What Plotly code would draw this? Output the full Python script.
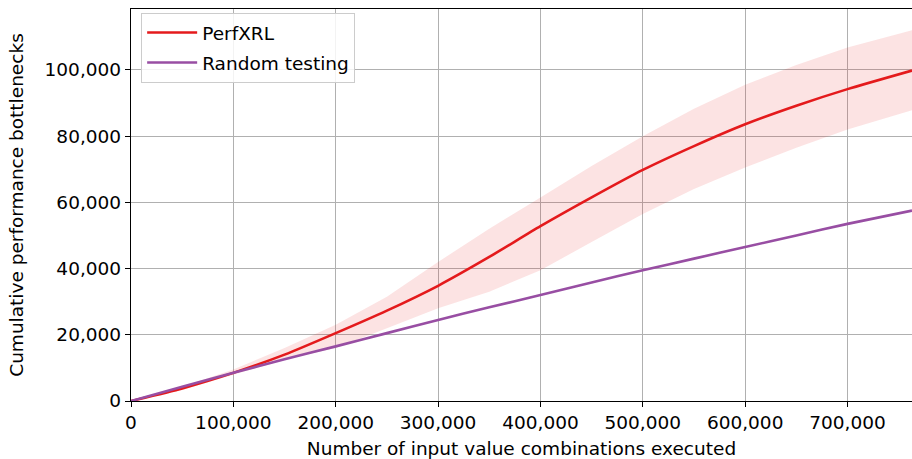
import plotly.graph_objects as go

executed = [0, 50000, 100000, 150000, 200000, 250000, 300000, 350000, 400000,
            450000, 500000, 550000, 600000, 650000, 700000, 763000]
perfxrl_mean = [0, 3800, 8500, 14000, 20500, 27300, 34800, 43500, 52800,
                61500, 69800, 77000, 83600, 89200, 94200, 99800]
perfxrl_upper = [0, 4300, 9500, 16000, 23000, 31500, 42000, 52000, 61500,
                 71000, 80000, 88300, 95500, 101500, 106800, 112000]
perfxrl_lower = [0, 3300, 7800, 12500, 16000, 22000, 28000, 33000, 39500,
                 48000, 56500, 64000, 70500, 76500, 82000, 87800]
random_testing = [0, 4300, 8500, 12600, 16500, 20500, 24500, 28300, 32000,
                  35800, 39500, 43000, 46500, 50000, 53500, 57500]

x_ticks = [0, 100000, 200000, 300000, 400000, 500000, 600000, 700000]
y_ticks = [0, 20000, 40000, 60000, 80000, 100000]

RED = "#e41a1c"
PURPLE = "#984ea3"
FONT = "DejaVu Sans"

fig = go.Figure()
fig.add_trace(go.Scatter(
    x=executed + executed[::-1],
    y=perfxrl_upper + perfxrl_lower[::-1],
    fill="toself", fillcolor="rgba(228,26,28,0.12)",
    line=dict(width=0), mode="lines", showlegend=False, hoverinfo="skip"))
fig.add_trace(go.Scatter(
    x=executed, y=perfxrl_mean, mode="lines", name="PerfXRL", legendgroup="a",
    line=dict(color=RED, width=2.6, shape="spline", smoothing=0.6)))
fig.add_trace(go.Scatter(
    x=executed, y=random_testing, mode="lines", name="Random testing",
    legendgroup="b",
    line=dict(color=PURPLE, width=2.6, shape="spline", smoothing=0.6)))

fig.update_layout(
    width=912, height=459,
    margin=dict(l=131, r=0, t=9, b=58, autoexpand=False),
    paper_bgcolor="white", plot_bgcolor="white",
    font=dict(family=FONT, size=18.5, color="black"),
    legend=dict(x=0.013, y=0.99, xanchor="left", yanchor="top",
                bgcolor="rgba(255,255,255,0.85)", bordercolor="#cccccc",
                borderwidth=1, font=dict(size=18.5), tracegroupgap=3,
                itemwidth=50),
    xaxis=dict(
        range=[0, 763000], tickvals=x_ticks, tickformat=",d",
        showgrid=True, gridcolor="#b0b0b0", gridwidth=1.4,
        showline=True, linecolor="black", linewidth=1.4, mirror=True,
        ticks="outside", ticklen=5, tickwidth=1.4, tickcolor="black",
        zeroline=False,
        title=dict(text="Number of input value combinations executed",
                   standoff=10, font=dict(size=18.5))),
    yaxis=dict(
        range=[0, 118400], tickvals=y_ticks, tickformat=",d",
        showgrid=True, gridcolor="#b0b0b0", gridwidth=1.4,
        showline=True, linecolor="black", linewidth=1.4,
        ticks="outside", ticklen=5, tickwidth=1.4, tickcolor="black",
        zeroline=False,
        title=dict(text="Cumulative performance bottlenecks",
                   standoff=16, font=dict(size=18.5))),
)

fig.write_html("out.html",
               config={"displayModeBar": False},
               post_script="document.body.style.margin='0';"
                           "document.body.style.overflow='hidden';")
